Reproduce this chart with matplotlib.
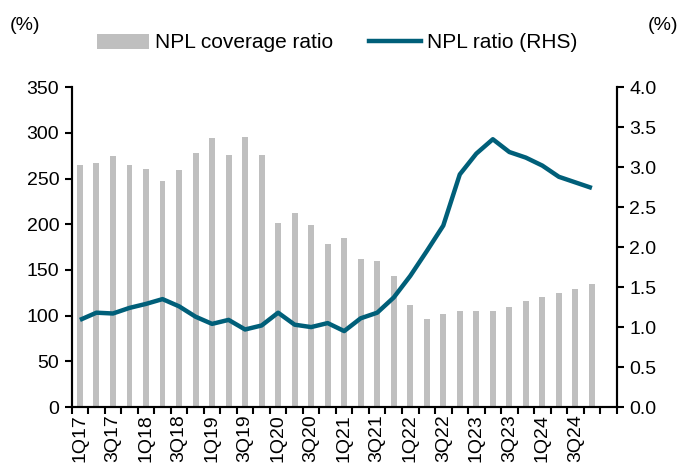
import numpy as np
import matplotlib
matplotlib.use('Agg')
import matplotlib.pyplot as plt
from matplotlib.patches import Patch
from matplotlib.lines import Line2D
from matplotlib import rcParams

rcParams['font.family'] = ['Liberation Sans', 'DejaVu Sans']

# Data
quarters = [f'{q}Q{y}' for y in range(17, 25) for q in range(1, 5)]
coverage = [265, 267, 275, 265, 261, 247, 259, 278, 294, 276, 296, 276,
            201, 212, 199, 178, 185, 162, 160, 143, 112, 96, 102, 105,
            105, 105, 110, 116, 120, 125, 129, 135]
npl_ratio = [1.09, 1.18, 1.17, 1.24, 1.29, 1.35, 1.26, 1.13, 1.04, 1.09, 0.97, 1.02,
             1.18, 1.03, 1.00, 1.05, 0.95, 1.11, 1.18, 1.37, 1.64, 1.95, 2.27, 2.91,
             3.17, 3.35, 3.19, 3.12, 3.02, 2.88, 2.81, 2.74]

bar_col = '#BFBFBF'
line_col = '#005F79'

fig = plt.figure(figsize=(6.8, 4.68), dpi=100)
ax = fig.add_axes([0.1054, 0.1303, 0.8015, 0.6832])
ax2 = ax.twinx()

x = np.arange(len(quarters))
ax.bar(x, coverage, width=0.36, color=bar_col, zorder=1)
ax2.plot(x, npl_ratio, color=line_col, linewidth=3.2, solid_joinstyle='round',
         solid_capstyle='butt', zorder=3)

# Axes limits and ticks
ax.set_xlim(-0.5, 32.5)
ax.set_ylim(0, 350)
ax.set_yticks(np.arange(0, 351, 50))
ax2.set_ylim(0, 4.0)
ax2.set_yticks(np.arange(0, 4.01, 0.5))
ax2.set_yticklabels([f'{v:.1f}' for v in np.arange(0, 4.01, 0.5)])

ax.set_xticks(np.arange(-0.5, 33, 1))
ax.set_xticklabels([])
ax.set_xticks(x[::2], minor=True)
ax.set_xticklabels(quarters[::2], minor=True, rotation=90)
ax.tick_params(axis='x', which='minor', length=0, pad=5, labelsize=14)
ax.tick_params(axis='x', which='major', length=5, width=1.5, direction='out')
ax.tick_params(axis='y', length=5, width=1.5, direction='out', labelsize=14, pad=4)
ax2.tick_params(axis='y', length=5, width=1.5, direction='out', labelsize=14, pad=4)

for a in (ax, ax2):
    a.spines['top'].set_visible(False)
    for s in ('left', 'right', 'bottom'):
        a.spines[s].set_linewidth(1.5)
        a.spines[s].set_color('black')

# Unit labels
fig.text(10 / 680, 1 - 25 / 468, '(%)', fontsize=14, va='center', ha='left')
fig.text(678 / 680, 1 - 25 / 468, '(%)', fontsize=14, va='center', ha='right')

# Legend
handles = [Patch(facecolor=bar_col, edgecolor='none'),
           Line2D([0], [0], color=line_col, linewidth=3.2)]
fig.legend(handles, ['NPL coverage ratio', 'NPL ratio (RHS)'], ncol=2,
           loc='center left', bbox_to_anchor=(97 / 680, 1 - 43 / 468),
           frameon=False, fontsize=15, handlelength=2.5, handletextpad=0.3,
           columnspacing=1.7, borderpad=0, borderaxespad=0)

plt.savefig('out.png', dpi=100)
